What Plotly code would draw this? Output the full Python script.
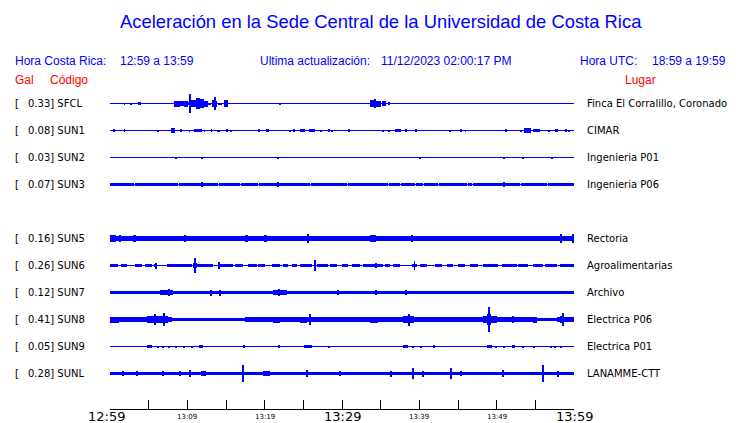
import plotly.graph_objects as go

# ---------------- data ----------------
TITLE = "Aceleración en la Sede Central de la Universidad de Costa Rica"
HORA_CR = "12:59 a 13:59"
HORA_UTC = "18:59 a 19:59"
ACTUALIZACION = "11/12/2023 02:00:17 PM"

TICK_MINUTES = [0, 5, 10, 15, 20, 25, 30, 35, 40, 45, 50, 55, 60]
TICK_LABEL_MINUTES = [0, 10, 20, 30, 40, 50, 60]
TICK_LABELS = ["12:59", "13:09", "13:19", "13:29", "13:39", "13:49", "13:59"]
TICK_LABEL_MAJOR = [True, False, False, True, False, False, True]

CODES = ["SFCL", "SUN1", "SUN2", "SUN3", "SUN5", "SUN6", "SUN7", "SUN8", "SUN9", "SUNL"]
PEAK_GAL = [0.33, 0.08, 0.03, 0.07, 0.16, 0.26, 0.12, 0.41, 0.05, 0.28]
PLACES = ["Finca El Corralillo, Coronado", "CIMAR", "Ingenieria P01", "Ingenieria P06",
          "Rectoria", "Agroalimentarias", "Archivo", "Electrica P06", "Electrica P01",
          "LANAMME-CTT"]

# waveform envelope segments: start minute, end minute, half amplitude (Gal)
SFCL_START = [1.81, 2.59, 3.62, 8.28, 9.05, 9.57, 10.09, 10.34, 10.47, 11.12, 11.64, 12.15,
              12.67, 13.19, 13.45, 13.58, 13.96, 14.74, 21.98, 33.62, 34.14, 34.40, 35.17, 35.95]
SFCL_END = [1.94, 2.72, 4.01, 9.05, 9.57, 10.09, 10.34, 10.47, 11.12, 11.64, 12.15, 12.67,
            13.06, 13.45, 13.58, 13.84, 14.48, 15.26, 22.11, 34.14, 34.40, 35.05, 35.69, 36.08]
SFCL_AMP = [0.03, 0.03, 0.04, 0.10, 0.07, 0.10, 0.06, 0.33, 0.13, 0.19, 0.16, 0.10,
            0.03, 0.12, 0.22, 0.10, 0.03, 0.13, 0.03, 0.12, 0.16, 0.10, 0.07, 0.05]

SUN1_START = [0.39, 1.81, 6.08, 7.89, 9.05, 10.22, 10.86, 12.16, 13.06, 13.84, 14.09, 15.00,
              15.52, 19.14, 20.17, 23.15, 23.79, 24.57, 25.73, 27.28, 28.19, 28.58, 30.78,
              35.30, 35.95, 36.85, 38.15, 39.44, 43.84, 45.26, 45.91, 51.08, 53.02, 53.53,
              53.92, 54.70, 56.64, 57.54, 58.84, 59.35]
SUN1_END = [0.52, 1.94, 6.21, 8.41, 9.31, 10.34, 11.90, 12.28, 13.19, 13.97, 14.22, 15.13,
            15.65, 19.27, 20.56, 23.28, 23.92, 25.22, 26.51, 27.41, 28.32, 28.71, 30.91,
            35.43, 36.08, 37.63, 38.28, 39.57, 43.97, 45.39, 46.03, 51.21, 53.15, 54.44,
            54.05, 55.60, 56.77, 57.93, 58.97, 59.48]
SUN1_AMP = [0.05, 0.05, 0.03, 0.07, 0.06, 0.03, 0.06, 0.03, 0.04, 0.03, 0.03, 0.04,
            0.03, 0.04, 0.06, 0.03, 0.05, 0.05, 0.06, 0.03, 0.05, 0.03, 0.04,
            0.03, 0.03, 0.06, 0.04, 0.04, 0.03, 0.05, 0.03, 0.06, 0.03, 0.07,
            0.08, 0.06, 0.03, 0.05, 0.04, 0.03]

SUN2_START = [8.53, 11.77, 21.72, 39.96, 50.82, 53.28, 57.15]
SUN2_END = [8.66, 11.90, 21.85, 40.09, 50.95, 53.41, 57.28]
SUN2_AMP = [0.02, 0.03, 0.03, 0.03, 0.03, 0.02, 0.02]

SUN3_START = [0.0, 3.23, 8.92, 14.10, 16.94, 19.27, 25.99, 30.78, 36.08, 37.63, 39.57, 40.60,
              42.54, 46.29, 46.94, 53.15, 56.64, 11.77, 21.72, 50.82]
SUN3_END = [3.10, 8.79, 13.97, 16.81, 19.14, 25.86, 30.65, 35.95, 37.50, 39.44, 40.47, 42.41,
            46.16, 46.81, 53.02, 56.51, 60.0, 11.90, 21.85, 50.95]
SUN3_AMP = [0.055] * 17 + [0.075, 0.075, 0.075]

SUN5_START = [0.0, 0.0, 9.57, 17.46, 25.60, 33.62, 39.05, 58.19, 59.74, 1.20, 3.10, 19.90]
SUN5_END = [60.0, 0.80, 9.83, 17.84, 25.73, 34.40, 39.18, 58.45, 60.0, 1.45, 3.35, 20.30]
SUN5_AMP = [0.088, 0.11, 0.13, 0.12, 0.16, 0.11, 0.13, 0.14, 0.14, 0.11, 0.11, 0.11]

SUN6_START = [0.0, 1.38, 3.23, 4.53, 5.69, 7.33, 10.77, 11.21, 14.22, 16.16, 17.88, 19.18,
              20.91, 22.41, 23.50, 24.57, 26.73, 28.45, 29.96, 31.25, 32.75, 33.62, 35.56,
              36.63, 39.01, 40.09, 42.03, 43.54, 45.04, 46.55, 48.27, 50.65, 52.80, 54.74,
              56.25, 58.19, 5.82, 10.99, 14.00, 26.38, 39.31, 34.27]
SUN6_END = [1.07, 2.16, 4.10, 5.39, 6.04, 10.56, 11.21, 13.36, 15.94, 17.24, 18.97, 20.04,
            21.98, 23.06, 24.14, 26.08, 28.23, 29.31, 30.81, 32.33, 33.62, 35.34, 36.21,
            37.50, 39.66, 40.95, 42.89, 44.39, 45.91, 47.62, 50.21, 52.59, 54.09, 56.03,
            57.76, 60.0, 5.95, 11.12, 14.13, 26.51, 39.44, 34.40]
SUN6_AMP = [0.06] * 6 + [0.08] + [0.06] * 29 + [0.10, 0.26, 0.13, 0.18, 0.16, 0.08]

SUN7_START = [0.0, 0.0, 6.47, 7.60, 12.97, 14.22, 21.08, 21.85, 29.48, 34.27, 38.15]
SUN7_END = [60.0, 2.20, 8.15, 7.73, 13.10, 14.35, 22.90, 21.98, 29.61, 34.40, 38.28]
SUN7_AMP = [0.055, 0.065, 0.07, 0.12, 0.10, 0.10, 0.07, 0.12, 0.07, 0.08, 0.08]

SUN8_START = [0.0, 8.00, 17.50, 55.20, 57.80, 0.0, 4.78, 5.69, 6.98, 21.08, 24.57, 25.86,
              33.62, 37.89, 38.54, 48.27, 48.79, 48.92, 49.31, 51.99, 54.70, 58.19, 58.45]
SUN8_END = [8.00, 17.50, 55.20, 57.80, 60.0, 1.20, 7.50, 5.82, 7.11, 22.00, 25.50, 25.99,
            34.60, 39.31, 38.67, 48.79, 49.31, 49.05, 50.08, 52.12, 55.20, 58.71, 58.58]
SUN8_AMP = [0.085, 0.06, 0.085, 0.065, 0.085, 0.10, 0.11, 0.17, 0.22, 0.10, 0.10, 0.19,
            0.10, 0.11, 0.20, 0.12, 0.18, 0.41, 0.13, 0.13, 0.10, 0.12, 0.22]

SUN9_START = [4.78, 6.08, 6.85, 7.50, 8.53, 9.44, 10.60, 11.51, 17.20, 21.85, 25.09, 28.19,
              37.89, 39.18, 40.09, 41.77, 48.79, 49.82, 50.82, 51.99, 53.28, 54.70, 56.90,
              57.54, 58.19]
SUN9_END = [5.43, 6.21, 6.98, 7.63, 8.66, 9.57, 10.73, 12.03, 17.33, 21.98, 26.12, 28.32,
            38.53, 39.31, 40.22, 41.90, 49.44, 49.95, 50.95, 52.37, 53.41, 54.83, 57.03,
            57.67, 58.32]
SUN9_AMP = [0.035, 0.03, 0.03, 0.03, 0.03, 0.03, 0.03, 0.035, 0.05, 0.05, 0.035, 0.03,
            0.04, 0.03, 0.03, 0.04, 0.045, 0.03, 0.03, 0.05, 0.03, 0.03, 0.03, 0.03, 0.03]

SUNL_START = [0.0, 1.68, 3.49, 6.85, 9.05, 10.34, 11.77, 17.07, 19.78, 25.47, 29.74, 36.21,
              39.18, 40.47, 43.97, 45.26, 50.69, 55.99, 57.93]
SUNL_END = [60.0, 1.81, 3.62, 6.98, 9.18, 10.47, 12.41, 17.20, 20.69, 25.60, 29.87, 36.34,
            39.31, 40.60, 44.10, 45.39, 50.82, 56.12, 58.06]
SUNL_AMP = [0.06, 0.08, 0.07, 0.08, 0.07, 0.12, 0.09, 0.28, 0.08, 0.13, 0.07, 0.10,
            0.19, 0.10, 0.17, 0.08, 0.13, 0.27, 0.10]

SEGMENTS = {
    "SFCL": (SFCL_START, SFCL_END, SFCL_AMP),
    "SUN1": (SUN1_START, SUN1_END, SUN1_AMP),
    "SUN2": (SUN2_START, SUN2_END, SUN2_AMP),
    "SUN3": (SUN3_START, SUN3_END, SUN3_AMP),
    "SUN5": (SUN5_START, SUN5_END, SUN5_AMP),
    "SUN6": (SUN6_START, SUN6_END, SUN6_AMP),
    "SUN7": (SUN7_START, SUN7_END, SUN7_AMP),
    "SUN8": (SUN8_START, SUN8_END, SUN8_AMP),
    "SUN9": (SUN9_START, SUN9_END, SUN9_AMP),
    "SUNL": (SUNL_START, SUNL_END, SUNL_AMP),
}

# ---------------- layout ----------------
PAGE_OFF = 8                               # default body margin of the html page
W, H = 740 - PAGE_OFF, 423 - PAGE_OFF
L, R, T, B = 110, 574, 88, 409             # plot area in page pixels
ROW_SLOTS = ["SFCL", "SUN1", "SUN2", "SUN3", None, "SUN5", "SUN6", "SUN7", "SUN8", "SUN9", "SUNL"]
ROW_STEP = 0.9                             # Gal between traces
Y_TOP, Y_BOT = 0.5167, -10.1833
BLUE, RED = "#0000ff", "#ff0000"
HEAD_FONT = "Liberation Sans, Arial, sans-serif"
LABEL_FONT = "DejaVu Sans, sans-serif"


def px_x(p):
    return (p - L) / (R - L)


def px_y(p):
    return (B - p) / (B - T)


fig = go.Figure()
annotations = []

for code, peak, place in zip(CODES, PEAK_GAL, PLACES):
    off = -ROW_STEP * ROW_SLOTS.index(code)
    s, e, a = SEGMENTS[code]
    assert len(s) == len(e) == len(a), code
    fig.add_trace(go.Scatter(x=[0, 60], y=[off, off], mode="lines",
                             line=dict(color=BLUE, width=1), hoverinfo="skip",
                             showlegend=False))
    fig.add_trace(go.Bar(x=[(u + v) / 2 for u, v in zip(s, e)],
                         width=[v - u for u, v in zip(s, e)],
                         y=[2 * q for q in a], base=[off - q for q in a],
                         marker=dict(color=BLUE, line=dict(width=0)),
                         hoverinfo="skip", showlegend=False))
    annotations.append(dict(text="[", x=px_x(13.5), y=off, xref="paper", yref="y",
                            xanchor="left", yanchor="middle", showarrow=False, borderpad=0,
                            font=dict(family=LABEL_FONT, size=10, color="black")))
    annotations.append(dict(text=f"{peak:.2f}] {code}", x=px_x(26.5), y=off, xref="paper",
                            yref="y", xanchor="left", yanchor="middle", showarrow=False,
                            borderpad=0,
                            font=dict(family=LABEL_FONT, size=10, color="black")))
    annotations.append(dict(text=place, x=px_x(586), y=off, xref="paper", yref="y",
                            xanchor="left", yanchor="middle", showarrow=False, borderpad=0,
                            font=dict(family=LABEL_FONT, size=10, color="black")))

for m, lab, major in zip(TICK_LABEL_MINUTES, TICK_LABELS, TICK_LABEL_MAJOR):
    annotations.append(dict(text=lab, x=m, xref="x", y=px_y(416.5), yref="paper",
                            xanchor="center", yanchor="middle", showarrow=False, borderpad=0,
                            xshift=-4 if m == 0 else 0,
                            font=dict(family=LABEL_FONT, size=13 if major else 7,
                                      color="black")))

head = [
    (TITLE, 381, 22, "center", 18.4, BLUE),
    ("Hora Costa Rica:", 13.5, 61, "left", 12, BLUE),
    (HORA_CR, 119, 61, "left", 12, BLUE),
    ("Ultima actualización:", 258.5, 61, "left", 12, BLUE),
    (ACTUALIZACION, 379.5, 61, "left", 12, BLUE),
    ("Hora UTC:", 578.5, 61, "left", 12, BLUE),
    (HORA_UTC, 650.5, 61, "left", 12, BLUE),
    ("Gal", 13.5, 80.5, "left", 12, RED),
    ("Código", 48.5, 80.5, "left", 12, RED),
    ("Lugar", 623.5, 80.5, "left", 12, RED),
]
for text, hx, hy, anchor, size, color in head:
    annotations.append(dict(text=text, x=px_x(hx), y=px_y(hy), xref="paper", yref="paper",
                            xanchor=anchor, yanchor="middle", showarrow=False, borderpad=0,
                            font=dict(family=HEAD_FONT, size=size, color=color)))

fig.update_layout(
    width=W, height=H, autosize=False,
    margin=dict(l=L - PAGE_OFF, r=740 - R, t=T - PAGE_OFF, b=423 - B, pad=0),
    paper_bgcolor="white", plot_bgcolor="white",
    barmode="overlay", bargap=0, showlegend=False,
    annotations=annotations,
    xaxis=dict(range=[0, 60], showgrid=False, zeroline=False, showline=True,
               linecolor="black", linewidth=1, ticks="inside", ticklen=9, tickwidth=1,
               tickcolor="black", tickvals=TICK_MINUTES, showticklabels=False,
               fixedrange=True),
    yaxis=dict(range=[Y_BOT, Y_TOP], visible=False, fixedrange=True),
)

fig.write_html("out.html", config={"displayModeBar": False})
